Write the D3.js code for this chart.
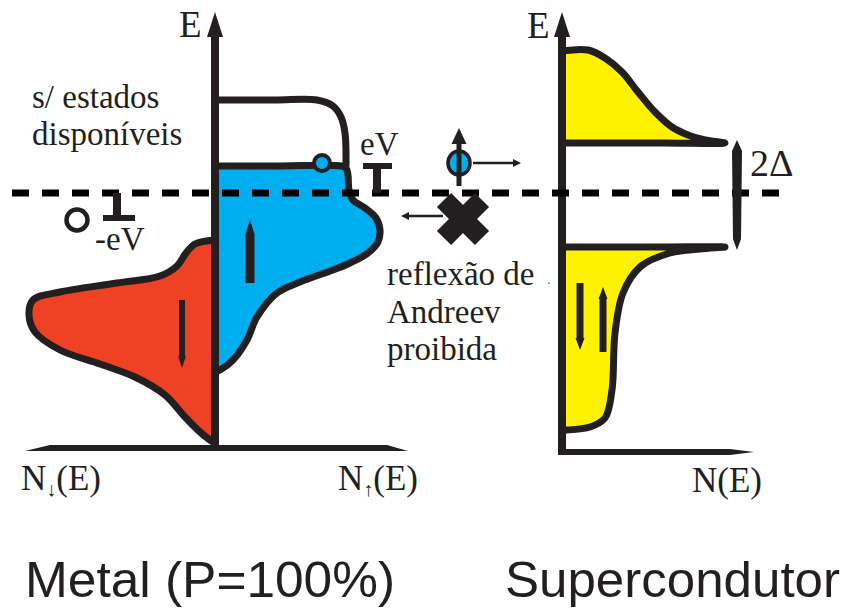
<!DOCTYPE html>
<html>
<head>
<meta charset="utf-8">
<script src="https://cdn.jsdelivr.net/npm/d3@7"></script>
<style>
body { margin: 0; background: #fff; }
svg { display: block; }
.serif { font-family: "Liberation Serif", "DejaVu Serif", serif; fill: #231f20; }
.sans { font-family: "Liberation Sans", Arial, sans-serif; fill: #231f20; }
</style>
</head>
<body>
<div id="chart"></div>
<script>
// density of states outlines as [N, E], E = 0 is the Fermi level
const metalUp = [[0, 0.27], [0.6, 0.27], [1.27, 0.27], [1.31, 0.25], [1.33, 0.18], [1.34, 0.03],
    [1.38, -0.07], [1.50, -0.15], [1.61, -0.25], [1.65, -0.37], [1.63, -0.49], [1.53, -0.60],
    [1.35, -0.70], [1.18, -0.77], [0.85, -0.89], [0.62, -1.00], [0.42, -1.24], [0.32, -1.47],
    [0.18, -1.67], [0.05, -1.77], [0, -1.79]]
const metalEmpty = [[0, 0.93], [0.6, 0.93], [1.02, 0.93], [1.18, 0.87], [1.26, 0.76], [1.30, 0.60], [1.31, 0.27]]
const metalDown = [[0, -0.47], [0.20, -0.51], [0.29, -0.60], [0.38, -0.73], [0.55, -0.83], [0.98, -0.90],
    [1.55, -0.99], [1.82, -1.07], [1.86, -1.22], [1.80, -1.39], [1.55, -1.57], [1.15, -1.71],
    [0.80, -1.84], [0.50, -2.02], [0.30, -2.24], [0.15, -2.39], [0.02, -2.49], [0, -2.50]]
const scUpper = [[0, 1.42], [0.26, 1.43], [0.43, 1.35], [0.60, 1.21], [0.76, 1.01], [0.93, 0.81],
    [1.10, 0.66], [1.26, 0.58], [1.43, 0.53], [1.63, 0.50], [1.0, 0.50], [0, 0.50]]
const scLower = [[0, -0.54], [1.0, -0.54], [1.63, -0.54], [1.38, -0.56], [1.08, -0.60], [0.78, -0.74],
    [0.61, -1.00], [0.53, -1.40], [0.50, -1.97], [0.43, -2.25], [0.28, -2.34], [0.05, -2.37], [0, -2.37]]

// spin arrows: N, E from, E to (tip)
const metalSpinUp = [[0.35, -0.90, -0.27]]
const metalSpinDown = [[0.33, -1.07, -1.75]]
const scSpins = [[0.18, -0.90, -1.57], [0.41, -1.59, -0.94]]

// markers
const gap = [0.50, -0.54]          // 2 delta, E of gap edges
const eV = [0.27, 0]               // eV step on the right
const minusEV = [-0.25, 0]         // -eV step on the left
const holeUp = [1.07, 0.30]        // hole at the top of the filled band
const holeDown = [1.38, -0.27]     // hole drawn on the down side
const electron = [2.44, 0.30]
const blocked = [2.48, -0.26]

const textLeft = ["s/ estados", "disponíveis"]
const textMid = ["reflexão de", "Andreev", "proibida"]
const titles = ["Metal (P=100%)", "Supercondutor"]

const w = 850
const h = 612
const ink = "#231f20"

var svg = d3.select("#chart").append("svg")
    .attr("width", w).attr("height", h)

var y = d3.scaleLinear().domain([-2.55, 1.8]).range([448, 13])
var xUp = d3.scaleLinear().domain([0, 2]).range([215, 415])
var xDown = d3.scaleLinear().domain([0, 2]).range([215, 15])
var xSC = d3.scaleLinear().domain([0, 2]).range([562, 762])

function outline(xs) {
    return d3.line().x(function(d) { return xs(d[0]) }).y(function(d) { return y(d[1]) })
        .curve(d3.curveCatmullRom.alpha(0.5))
}

// filled regions
svg.append("path").attr("d", outline(xDown)(metalDown) + "Z")
    .attr("fill", "#ef4123").attr("stroke", ink).attr("stroke-width", 7).attr("stroke-linejoin", "round")
svg.append("path").attr("d", outline(xUp)(metalUp) + "Z")
    .attr("fill", "#00aeef").attr("stroke", ink).attr("stroke-width", 7).attr("stroke-linejoin", "round")
svg.append("path").attr("d", outline(xUp)(metalEmpty))
    .attr("fill", "none").attr("stroke", ink).attr("stroke-width", 7).attr("stroke-linejoin", "round")
svg.append("path").attr("d", outline(xSC)(scUpper) + "Z")
    .attr("fill", "#fff200").attr("stroke", ink).attr("stroke-width", 7).attr("stroke-linejoin", "round")
svg.append("path").attr("d", outline(xSC)(scLower) + "Z")
    .attr("fill", "#fff200").attr("stroke", ink).attr("stroke-width", 7).attr("stroke-linejoin", "round")

// spin arrows
function spinArrow(xs, a, bw, hw, hl) {
    var x0 = xs(a[0]), y0 = y(a[1]), y1 = y(a[2])
    var s = y1 < y0 ? 1 : -1
    var yb = y1 + s * hl
    return "M" + (x0 - bw / 2) + "," + y0 + "L" + (x0 - bw / 2) + "," + yb + "L" + (x0 - hw / 2) + "," + yb +
        "L" + x0 + "," + y1 + "L" + (x0 + hw / 2) + "," + yb + "L" + (x0 + bw / 2) + "," + yb +
        "L" + (x0 + bw / 2) + "," + y0 + "Z"
}
metalSpinUp.forEach(function(a) { svg.append("path").attr("d", spinArrow(xUp, a, 9, 9, 14)).attr("fill", ink) })
metalSpinDown.forEach(function(a) { svg.append("path").attr("d", spinArrow(xDown, a, 6, 8, 12)).attr("fill", ink) })
scSpins.forEach(function(a) { svg.append("path").attr("d", spinArrow(xSC, a, 7, 9, 12)).attr("fill", ink) })

// axes
var yb = y.range()[0], yt = y.range()[1]
function vAxis(x0, bottom) {
    svg.append("line").attr("x1", x0).attr("x2", x0).attr("y1", bottom).attr("y2", yt + 20)
        .attr("stroke", ink).attr("stroke-width", 8)
    svg.append("path").attr("d", "M" + (x0 - 8) + "," + (yt + 24) + "L" + x0 + "," + (yt - 1) +
        "L" + (x0 + 8) + "," + (yt + 24) + "Z").attr("fill", ink)
}
// metal horizontal axis, thin wedges at both ends
svg.append("path")
    .attr("d", "M" + xDown(1.9) + "," + (yb + 3) + "L" + xDown(1.65) + "," + (yb - 3) +
        "L" + xUp(1.72) + "," + (yb - 3) + "L" + xUp(1.93) + "," + (yb + 3) + "Z")
    .attr("fill", ink)
vAxis(xUp(0), yb + 3)
// superconductor axes
svg.append("path")
    .attr("d", "M" + xSC(0) + "," + (yb + 1) + "L" + xSC(1.68) + "," + (yb + 1) +
        "L" + xSC(1.92) + "," + (yb + 4) + "L" + xSC(1.68) + "," + (yb + 7) +
        "L" + xSC(0) + "," + (yb + 7) + "Z")
    .attr("fill", ink)
vAxis(xSC(0), yb + 7)

// fermi level
svg.append("line").attr("x1", 12).attr("x2", 790).attr("y1", y(0)).attr("y2", y(0))
    .attr("stroke", "#000").attr("stroke-width", 7).attr("stroke-dasharray", "17,13")

// holes
svg.append("circle").attr("cx", xUp(holeUp[0])).attr("cy", y(holeUp[1])).attr("r", 8)
    .attr("fill", "#00aeef").attr("stroke", ink).attr("stroke-width", 4)
svg.append("circle").attr("cx", xDown(holeDown[0])).attr("cy", y(holeDown[1])).attr("r", 10.5)
    .attr("fill", "#fff").attr("stroke", ink).attr("stroke-width", 4.5)

// eV steps
svg.append("rect").attr("x", xUp(1.48)).attr("y", y(eV[0]) - 3).attr("width", xUp(1.77) - xUp(1.48)).attr("height", 6).attr("fill", ink)
svg.append("rect").attr("x", xUp(1.62) - 4).attr("y", y(eV[0])).attr("width", 8).attr("height", y(eV[1]) - y(eV[0])).attr("fill", ink)
svg.append("rect").attr("x", xDown(1.12)).attr("y", y(minusEV[0]) - 3).attr("width", xDown(0.80) - xDown(1.12)).attr("height", 6).attr("fill", ink)
svg.append("rect").attr("x", xDown(0.98) - 4).attr("y", y(minusEV[1])).attr("width", 8).attr("height", y(minusEV[0]) - y(minusEV[1])).attr("fill", ink)

// gap marker 2 delta
var gx = xSC(1.75)
svg.append("path").attr("d", "M" + gx + "," + (y(gap[0]) - 3) + "L" + (gx + 5) + "," + (y(gap[0]) + 8) +
    "L" + (gx + 4) + "," + (y(gap[1]) - 8) + "L" + gx + "," + (y(gap[1]) + 3) + "L" + (gx - 4) + "," + (y(gap[1]) - 8) +
    "L" + (gx - 5) + "," + (y(gap[0]) + 8) + "Z").attr("fill", ink)

// electron arriving at the interface
var ex = xUp(electron[0]), ey = y(electron[1])
svg.append("line").attr("x1", ex + 14).attr("x2", xUp(3.0)).attr("y1", ey).attr("y2", ey)
    .attr("stroke", ink).attr("stroke-width", 2.5)
svg.append("path").attr("d", "M" + xUp(3.06) + "," + ey + "L" + xUp(2.98) + "," + (ey - 4) + "L" + xUp(2.98) + "," + (ey + 4) + "Z").attr("fill", ink)
svg.append("ellipse").attr("cx", ex).attr("cy", ey).attr("rx", 11).attr("ry", 12)
    .attr("fill", "#00aeef").attr("stroke", ink).attr("stroke-width", 3.5)
svg.append("path").attr("d", spinArrow(xUp, [electron[0], 0.07, 0.65], 5, 15, 16)).attr("fill", ink)

// forbidden reflection
var bx = xUp(blocked[0]), by = y(blocked[1])
svg.append("line").attr("x1", bx - 20).attr("x2", xUp(1.92)).attr("y1", by - 3).attr("y2", by - 3)
    .attr("stroke", ink).attr("stroke-width", 2.5)
svg.append("path").attr("d", "M" + xUp(1.86) + "," + (by - 3) + "L" + xUp(1.94) + "," + (by - 7) + "L" + xUp(1.94) + "," + (by + 1) + "Z").attr("fill", ink)
svg.append("path")
    .attr("d", "M" + (bx - 19) + "," + (by - 19) + "L" + (bx + 19) + "," + (by + 19) +
        "M" + (bx + 19) + "," + (by - 19) + "L" + (bx - 19) + "," + (by + 19))
    .attr("stroke", ink).attr("stroke-width", 20)
svg.append("circle").attr("cx", 549).attr("cy", 283).attr("r", 1).attr("fill", "#00aeef")

// labels
function label(t, x, yy, size, cls) {
    return svg.append("text").attr("class", cls || "serif").attr("x", x).attr("y", yy)
        .style("font-size", size + "px").text(t)
}
label("E", 179, 37, 37)
label("E", 527, 38, 37)
var nd = label("N", 21, 490, 35)
nd.append("tspan").attr("dy", 6).style("font-size", "20px").text("↓")
nd.append("tspan").attr("dy", -6).text("(E)")
var nu = label("N", 338, 490, 35)
nu.append("tspan").attr("dy", 6).style("font-size", "20px").text("↑")
nu.append("tspan").attr("dy", -6).text("(E)")
label("N(E)", 692, 492, 35)
label("2Δ", 750, 176, 38)
label("eV", 360, 155, 33)
label("-eV", 95, 250, 33)
textLeft.forEach(function(t, i) { label(t, 32, 108 + i * 37, 33) })
textMid.forEach(function(t, i) { label(t, 387, 285 + i * 37.5, 33) })
label(titles[0], 25, 597, 50, "sans").attr("textLength", 370).attr("lengthAdjust", "spacingAndGlyphs")
label(titles[1], 505, 597, 50, "sans").attr("textLength", 335).attr("lengthAdjust", "spacingAndGlyphs")
</script>
</body>
</html>
